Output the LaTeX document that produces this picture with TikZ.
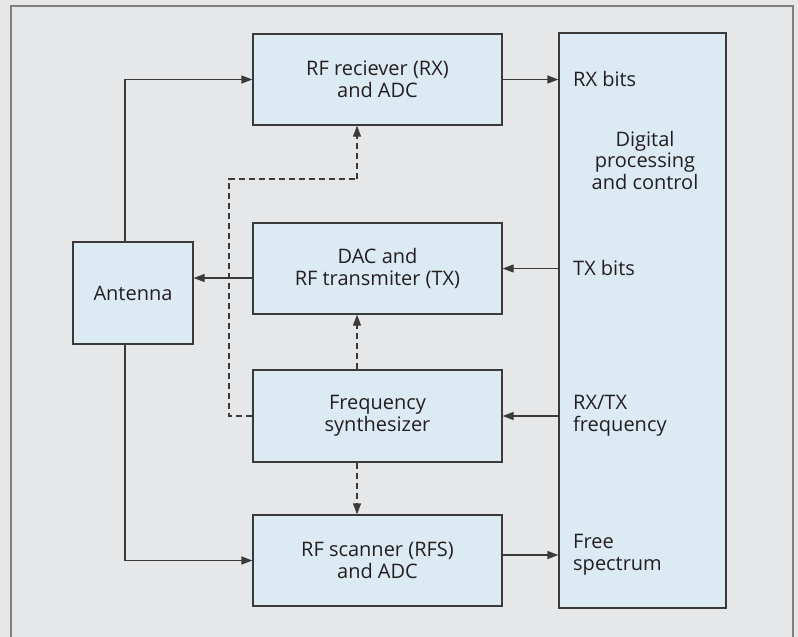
\documentclass[tikz,border=0pt]{standalone}
\usepackage{fontspec}
\setmainfont{Open Sans}
\usetikzlibrary{arrows.meta,calc}
\definecolor{bgc}{HTML}{E6E7E8}
\definecolor{boxc}{HTML}{DCEAF4}
\definecolor{framec}{HTML}{7F7F7F}
\definecolor{linec}{HTML}{3A3A3A}
\definecolor{txtc}{HTML}{231F20}
\begin{document}
\begin{tikzpicture}[x=1pt,y=-1pt,
  blk/.style={draw=linec,fill=boxc,line width=1.3pt,rectangle,align=center,
    text=txtc,font=\fontsize{20}{21.5}\selectfont,inner sep=0pt},
  lbl/.style={anchor=west,align=left,text=txtc,font=\fontsize{20}{21.5}\selectfont,inner sep=0pt},
  arr/.style={draw=linec,line width=1.3pt,-{Triangle[length=11pt,width=8pt]}},
  darr/.style={arr,dash pattern=on 6pt off 4pt},
  dline/.style={draw=linec,line width=1.3pt,dash pattern=on 6pt off 4pt}]
\useasboundingbox (0,0) rectangle (798,637);
\fill[bgc] (0,0) rectangle (798,637);
\draw[framec,line width=1.3pt,fill=bgc] (11,6) rectangle (793,640);
\node[blk,minimum width=249pt,minimum height=91pt] (rx) at (377.5,79.5) {RF reciever (RX)\\and ADC};
\node[blk,minimum width=249pt,minimum height=91pt] (dac) at (377.5,268.5) {DAC and\\RF transmiter (TX)};
\node[blk,minimum width=249pt,minimum height=92pt] (fs) at (377.5,416) {Frequency\\synthesizer};
\node[blk,minimum width=249pt,minimum height=91pt] (sc) at (377.5,560.5) {RF scanner (RFS)\\and ADC};
\node[blk,minimum width=120pt,minimum height=102pt] (ant) at (133,293) {Antenna};
\node[blk,minimum width=167pt,minimum height=575pt] (dig) at (642.5,320.5) {};
\node[blk,draw=none,fill=none] (dpc) at (645,160) {Digital\\processing\\and control};
\node[lbl] (rxb) at (573,79) {RX bits};
\node[lbl] (txb) at (573,268) {TX bits};
\node[lbl] (rtf) at (573,416) {RX/TX\\frequency};
\node[lbl] (fsp) at (573,555) {Free\\spectrum};
\coordinate (ax) at (125,0);
\coordinate (dy) at (0,278);
\coordinate (sy) at (0,555);
\coordinate (dx) at (229,0);
\coordinate (dyy) at (0,179);
\coordinate (cx) at (357,0);
% solid connectors
\draw[arr] (ant.north -| ax) |- (rx.west);
\draw[arr] (ant.south -| ax) |- (sc.west);
\draw[arr] (dac.west |- dy) -- (ant.east |- dy);
\draw[arr] (rx.east) -- (dig.west |- rx.east);
\draw[arr] (dig.west |- dac.east) -- (dac.east);
\draw[arr] (dig.west |- fs.east) -- (fs.east);
\draw[arr] (sc.east |- sy) -- (dig.west |- sy);
% dashed connectors
\draw[darr] (fs.north -| cx) -- (dac.south -| cx);
\draw[darr] (fs.south -| cx) -- (sc.north -| cx);
\draw[dline] (fs.west) -| (dx |- dyy) -- (cx |- dyy);
\draw[darr] (cx |- dyy) -- (rx.south -| cx);
\end{tikzpicture}
\end{document}
